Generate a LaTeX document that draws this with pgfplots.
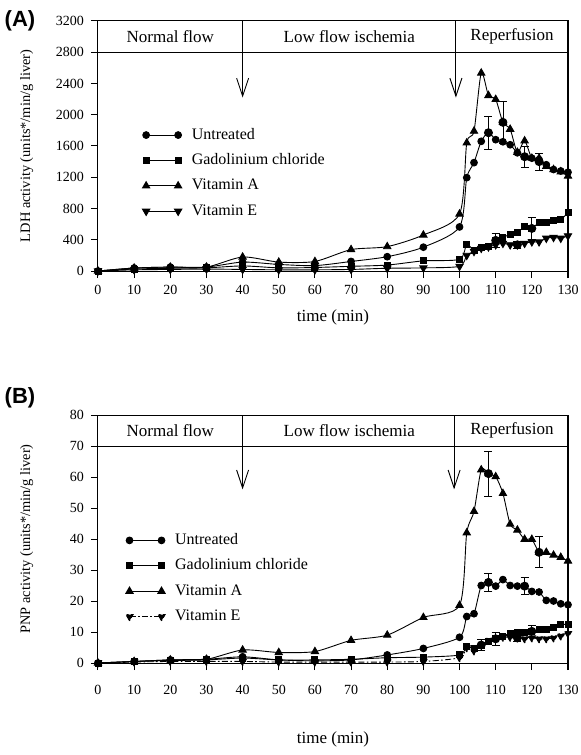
\documentclass[border=0pt]{standalone}
\usepackage{fontspec}
\setmainfont{Liberation Serif}
\setsansfont{Liberation Sans}
\usepackage{pgfplots}
\pgfplotsset{compat=1.18}
\usetikzlibrary{arrows.meta}

\pgfplotsset{
  panel/.style={
    scale only axis, width=235pt,
    xmin=0, xmax=130, xtick={0,10,...,130},
    axis line style={line width=0.5pt},
    tick align=outside, tick pos=left, major tick length=3.5pt,
    tick style={line width=0.5pt, black},
    tick label style={font=\fontsize{7}{8}\selectfont},
    /pgf/number format/assume math mode=true,
    /pgf/number format/1000 sep={},
    clip=false,
    every axis plot/.append style={black, line width=0.45pt, smooth, tension=0.45},
    legend style={draw=none, fill=none, inner sep=0pt, row sep=2.7pt,
      font=\fontsize{8}{9}\selectfont,
      nodes={text height=6pt, text depth=2pt, inner sep=1pt}, cells={anchor=west},
      /tikz/every odd column/.append style={column sep=4pt}},
    legend image code/.code={\draw[##1] plot coordinates {(0pt,0pt) (16pt,0pt)};},
  },
  untreated/.style={mark=*, mark size=1.7pt},
  gd/.style={mark=square*, mark size=1.5pt},
  vita/.style={mark=triangle*, mark size=2.1pt},
  vite/.style={mark=triangle*, mark size=2.1pt, mark options={rotate=180}},
  ebar/.style={forget plot, only marks, mark=none,
    error bars/.cd, y dir=both, y explicit,
    error bar style={line width=0.4pt}},
}
\tikzset{
  hdr/.style={font=\fontsize{8.5}{10}\selectfont},
  xlab/.style={font=\fontsize{8.5}{10}\selectfont},
  ylab/.style={font=\fontsize{7.2}{9}\selectfont, rotate=90},
  plab/.style={font=\sffamily\bfseries\fontsize{11}{12}\selectfont},
  darrow/.style={line width=0.45pt, -{Straight Barb[length=9pt,width=6pt]}},
}

\begin{document}
\begin{tikzpicture}
\path[use as bounding box] (-49pt,-242pt) rectangle (241pt,135.5pt);

% ---------------- (A) LDH ----------------
\begin{axis}[panel, height=125pt,
  ymin=0, ymax=3200, ytick={0,400,...,3200},
  legend style={at={(axis cs:12.2,1873)}, anchor=north west},
]
\addplot[untreated] coordinates {(0,0) (10,38) (20,50) (30,50) (40,114) (50,84) (60,69) (70,122) (80,183) (90,305) (100,564) (102,1195) (104,1387) (106,1660) (108,1770) (110,1681) (112,1654) (114,1616) (116,1513) (118,1463) (120,1444) (122,1425) (124,1360) (126,1299) (128,1280) (130,1264)};
\addlegendentry{Untreated}
\addplot[gd] coordinates {(0,0) (10,25) (20,35) (30,40) (40,65) (50,40) (60,45) (70,60) (80,76) (90,130) (100,150) (102,343) (104,259) (106,297) (108,316) (110,392) (112,430) (114,469) (116,496) (118,564) (120,545) (122,622) (124,622) (126,649) (128,660) (130,748)};
\addlegendentry{Gadolinium chloride}
\addplot[vita] coordinates {(0,0) (10,38) (20,50) (30,50) (40,179) (50,114) (60,122) (70,274) (80,312) (90,461) (100,730) (102,1640) (104,1790) (106,2534) (108,2247) (110,2197) (112,1903) (114,1815) (116,1520) (118,1666) (120,1444) (122,1444) (124,1340) (126,1299) (128,1270) (130,1215)};
\addlegendentry{Vitamin A}
\addplot[vite] coordinates {(0,0) (10,15) (20,20) (30,25) (40,20) (50,15) (60,15) (70,20) (80,35) (90,40) (100,60) (102,200) (104,250) (106,290) (108,308) (110,335) (112,354) (114,335) (116,335) (118,354) (120,373) (122,373) (124,419) (126,430) (128,419) (130,450)};
\addlegendentry{Vitamin E}
\addplot[ebar] coordinates {(108,1770) +- (0,210) (112,1903) +- (0,270) (118,1463) +- (0,135) (122,1400) +- (0,110) (110,392) +- (0,95) (120,545) +- (0,135) (116,335) +- (0,45)};

\draw[line width=0.5pt] (axis cs:0,2800) -- (axis cs:130,2800);
\draw[line width=0.5pt] (axis cs:40,2800) -- (axis cs:40,3200);
\draw[line width=0.5pt] (axis cs:99,2800) -- (axis cs:99,3200);
\draw[darrow] (axis cs:40,2800) -- (axis cs:40,2220);
\draw[darrow] (axis cs:99,2800) -- (axis cs:99,2220);
\node[hdr] at (axis cs:20,3000) {Normal flow};
\node[hdr] at (axis cs:69.5,3000) {Low flow ischemia};
\node[hdr] at (axis cs:114.5,3000) {Reperfusion};
\node[xlab] at (axis description cs:0.5,-0.184) {time (min)};
\node[ylab] at (axis description cs:-0.152,0.5) {LDH activity (units*/min/g liver)};
\node[plab] at (axis description cs:-0.166,1.0) {(A)};
\end{axis}

% ---------------- (B) PNP ----------------
\begin{axis}[panel, height=124pt, at={(0,-196pt)},
  ymin=0, ymax=80, ytick={0,10,...,80},
  xticklabel style={yshift=-4pt},
  legend style={at={(axis cs:7.6,42.9)}, anchor=north west},
]
\addplot[untreated] coordinates {(0,0) (10,0.5) (20,1.0) (30,1.2) (40,2.0) (50,1.0) (60,0.7) (70,1.0) (80,2.6) (90,4.7) (100,8.3) (102,15.0) (104,15.9) (106,25.0) (108,26.0) (110,24.8) (112,26.9) (114,25.0) (116,24.8) (118,24.8) (120,23.1) (122,22.9) (124,20.2) (126,20.0) (128,19.1) (130,18.8)};
\addlegendentry{Untreated}
\addplot[gd] coordinates {(0,0) (10,0.5) (20,0.8) (30,1.0) (40,1.6) (50,1.0) (60,1.0) (70,1.2) (80,1.7) (90,1.9) (100,2.6) (102,5.3) (104,4.6) (106,5.6) (108,6.8) (110,7.8) (112,8.7) (114,9.5) (116,9.7) (118,9.9) (120,10.2) (122,10.7) (124,10.9) (126,11.5) (128,12.4) (130,12.4)};
\addlegendentry{Gadolinium chloride}
\addplot[vita] coordinates {(0,0) (10,0.5) (20,1.0) (30,1.2) (40,4.2) (50,3.4) (60,3.7) (70,7.3) (80,9.0) (90,14.7) (100,18.6) (102,42.0) (104,48.9) (106,62.3) (108,61.1) (110,60.1) (112,54.7) (114,44.8) (116,42.9) (118,39.9) (120,39.9) (122,35.7) (124,35.7) (126,34.8) (128,34.1) (130,32.9)};
\addlegendentry{Vitamin A}
\addplot[vite, dash pattern=on 3pt off 1.2pt on 0.8pt off 1.2pt] coordinates {(0,0) (10,0.3) (20,0.5) (30,0.5) (40,0.5) (50,0.3) (60,0.3) (70,0.3) (80,0.3) (90,0.5) (100,1.7) (102,4.9) (104,3.9) (106,5.8) (108,7.3) (110,7.8) (112,8.3) (114,8.3) (116,8.1) (118,7.8) (120,8.1) (122,7.8) (124,7.8) (126,8.1) (128,8.7) (130,9.5)};
\addlegendentry{Vitamin E}
\addplot[ebar] coordinates {(108,61.1) +- (0,7.2) (122,35.7) +- (0,5) (108,26.0) +- (0,2.9) (118,24.8) +- (0,2.8) (110,7.8) +- (0,2) (120,10.2) +- (0,2) (106,5.8) +- (0,1.7) (116,8.1) +- (0,1.2)};

\draw[line width=0.5pt] (axis cs:0,70) -- (axis cs:130,70);
\draw[line width=0.5pt] (axis cs:40,70) -- (axis cs:40,80);
\draw[line width=0.5pt] (axis cs:98.5,70) -- (axis cs:98.5,80);
\draw[darrow] (axis cs:40,70) -- (axis cs:40,56);
\draw[darrow] (axis cs:98.5,70) -- (axis cs:98.5,56);
\node[hdr] at (axis cs:20,75) {Normal flow};
\node[hdr] at (axis cs:69.5,75) {Low flow ischemia};
\node[hdr] at (axis cs:114.5,75) {Reperfusion};
\node[xlab] at (axis description cs:0.5,-0.31) {time (min)};
\node[ylab] at (axis description cs:-0.152,0.5) {PNP activity (units*/min/g liver)};
\node[plab] at (axis description cs:-0.166,1.069) {(B)};
\end{axis}
\end{tikzpicture}
\end{document}
